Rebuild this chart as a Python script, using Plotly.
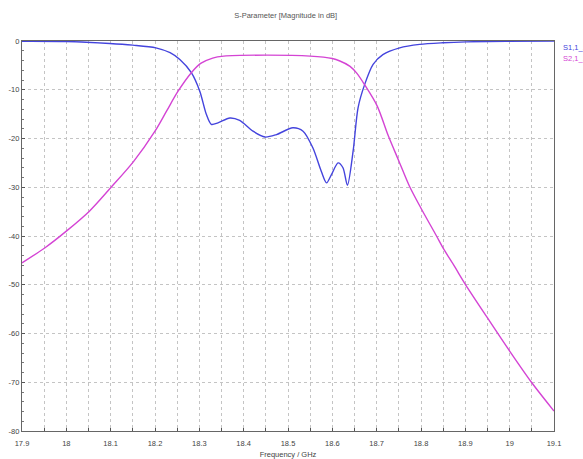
import plotly.graph_objects as go

title_text = "S-Parameter [Magnitude in dB]"
x_title = "Frequency / GHz"
legend_names = ["S1,1_1", "S2,1_1"]

s11_freq = [17.9, 18.0, 18.098, 18.15, 18.202, 18.234, 18.256, 18.282, 18.301, 18.316,
            18.327, 18.342, 18.369, 18.391, 18.421, 18.448, 18.474, 18.511, 18.534, 18.556,
            18.575, 18.587, 18.598, 18.613, 18.624, 18.634, 18.647, 18.658, 18.673, 18.692,
            18.714, 18.752, 18.797, 18.849, 18.902, 18.992, 19.1]
s11_db = [-0.05, -0.1, -0.5, -0.85, -1.4, -2.4, -3.8, -6.5, -10.3, -15.1,
          -17.1, -16.8, -15.8, -16.3, -18.5, -19.7, -19.2, -17.8, -18.5, -21.9,
          -26.7, -29.1, -27.4, -25.0, -26.0, -29.6, -22.5, -13.7, -8.9, -4.8,
          -2.8, -1.4, -0.7, -0.37, -0.17, -0.05, 0.0]

s21_freq = [17.9, 17.952, 18.0, 18.052, 18.1, 18.151, 18.2, 18.226, 18.252, 18.282,
            18.303, 18.33, 18.355, 18.45, 18.55, 18.6, 18.617, 18.64, 18.655, 18.673,
            18.701, 18.726, 18.75, 18.774, 18.8, 18.835, 18.85, 18.876, 18.9, 18.95,
            19.0, 19.05, 19.1]
s21_db = [-45.5, -42.4, -39.0, -34.9, -30.1, -24.8, -18.5, -14.4, -10.3, -6.5,
          -4.6, -3.5, -3.1, -2.9, -3.1, -3.6, -4.1, -5.2, -6.6, -9.0,
          -13.3, -19.4, -24.6, -29.8, -34.3, -40.0, -42.5, -46.3, -49.9, -56.8,
          -63.6, -70.1, -75.9]

x_ticks = [17.9, 18.0, 18.1, 18.2, 18.3, 18.4, 18.5, 18.6, 18.7, 18.8, 18.9, 19.0, 19.1]
x_ticktext = ["17.9", "18", "18.1", "18.2", "18.3", "18.4", "18.5", "18.6", "18.7",
              "18.8", "18.9", "19", "19.1"]
y_ticks = [0, -10, -20, -30, -40, -50, -60, -70, -80]
y_ticktext = ["0", "-10", "-20", "-30", "-40", "-50", "-60", "-70", "-80"]

blue = "#4444dd"
magenta = "#d444d4"
font_fam = "Liberation Sans, Arial, sans-serif"
grid_col = "#c4c4c4"

fig = go.Figure()
fig.add_trace(go.Scatter(x=s11_freq, y=s11_db, mode="lines", name=legend_names[0],
                         line=dict(color=blue, width=1.4, shape="spline", smoothing=0.8)))
fig.add_trace(go.Scatter(x=s21_freq, y=s21_db, mode="lines", name=legend_names[1],
                         line=dict(color=magenta, width=1.4, shape="spline", smoothing=0.9)))

fig.update_xaxes(range=[17.9, 19.1], tickvals=x_ticks, ticktext=x_ticktext,
                 showgrid=True, gridcolor=grid_col, griddash="dot", gridwidth=1,
                 zeroline=False, automargin=False,
                 showline=True, linecolor="#666666", linewidth=1.2, mirror=True,
                 ticks="inside", ticklen=3, tickcolor="#555555", ticklabelstandoff=5,
                 minor=dict(dtick=0.05, tick0=17.9, showgrid=True, gridcolor=grid_col,
                            griddash="dot", ticks="inside", ticklen=3, tickcolor="#555555"),
                 tickfont=dict(family=font_fam, size=7.5, color="#444444"),
                 title=dict(text=x_title, standoff=5,
                            font=dict(family=font_fam, size=7.5, color="#444444")))
fig.update_yaxes(range=[-80, 0], tickvals=y_ticks, ticktext=y_ticktext,
                 showgrid=True, gridcolor=grid_col, griddash="dot", gridwidth=1,
                 zeroline=False, automargin=False,
                 showline=True, linecolor="#666666", linewidth=1.2, mirror=True,
                 ticks="inside", ticklen=3, tickcolor="#555555",
                 minor=dict(dtick=2, tick0=0, showgrid=False, ticks="inside", ticklen=2,
                            tickcolor="#777777"),
                 tickfont=dict(family=font_fam, size=7.5, color="#444444"))

for i, (name, col) in enumerate(zip(legend_names, [blue, magenta])):
    fig.add_annotation(x=1, y=1, xref="paper", yref="paper", xanchor="left", yanchor="middle",
                       xshift=7, yshift=-6 - 11 * i, text=name, showarrow=False,
                       font=dict(family=font_fam, size=7.5, color=col))

fig.update_layout(
    width=583, height=459,
    margin=dict(l=22, r=29, t=41, b=28),
    paper_bgcolor="white", plot_bgcolor="white",
    showlegend=False,
    title=dict(text=title_text, x=0.49, xanchor="center", y=1 - 15 / 459, yanchor="middle",
               font=dict(family=font_fam, size=7.5, color="#555555")),
)

fig.write_html("out.html")
